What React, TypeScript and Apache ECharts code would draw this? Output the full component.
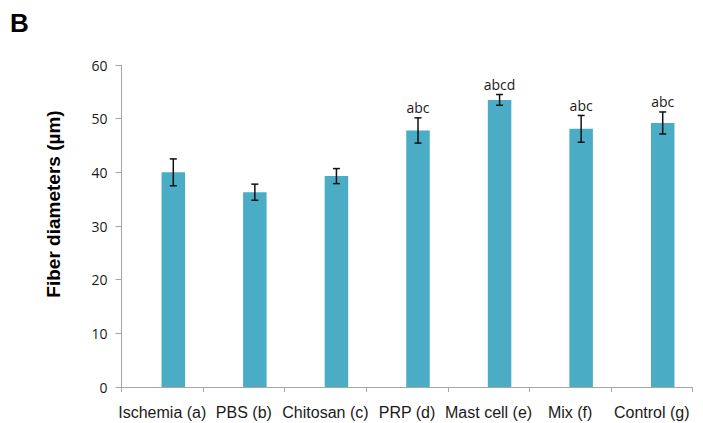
import React, { useEffect, useRef } from "react";
import * as echarts from "echarts";

const categories = ["Ischemia (a)", "PBS (b)", "Chitosan (c)", "PRP (d)", "Mast cell (e)", "Mix (f)", "Control (g)"];
const means = [40.0, 36.3, 39.3, 47.8, 53.5, 48.1, 49.2];
const errors = [2.5, 1.5, 1.4, 2.35, 1.0, 2.5, 2.05];
const sigLabels = ["", "", "", "abc", "abcd", "abc", "abc"];
const yTicks = { min: 0, max: 60, interval: 10 };

const BAR_W = 23.5;
const BAR_GAP_PX = -1.5;
const OFFSET = (BAR_W + BAR_GAP_PX) / 2;

export default function App() {
  const ref = useRef<HTMLDivElement>(null);
  useEffect(() => {
    if (!ref.current) return;
    const chart = echarts.init(ref.current, null, { renderer: "svg" });
    const errData = means.map((m, i) => [i, m, errors[i], sigLabels[i]]);
    chart.setOption({
      animation: false,
      backgroundColor: "#ffffff",
      grid: { left: 121.5, right: 10.5, top: 65, bottom: 36, containLabel: false },
      graphic: [
        {
          type: "text",
          left: 10,
          top: 10,
          style: { text: "B", font: "bold 26px 'Liberation Sans', Arial, sans-serif", fill: "#000" },
        },
        {
          type: "text",
          x: 53,
          y: 204,
          rotation: Math.PI / 2,
          style: {
            text: "Fiber diameters (µm)",
            font: "bold 19px 'Liberation Sans', Arial, sans-serif",
            fill: "#000",
            align: "center",
            verticalAlign: "middle",
          },
        },
      ],
      xAxis: {
        type: "category",
        data: categories,
        axisLine: { lineStyle: { color: "#a6a6a6", width: 1 } },
        axisTick: { show: true, alignWithLabel: false, length: 5, lineStyle: { color: "#a6a6a6" } },
        axisLabel: {
          color: "#1a1a1a",
          fontFamily: "'Liberation Sans', Arial, sans-serif",
          fontSize: 16,
          margin: 17,
          interval: 0,
        },
      },
      yAxis: {
        type: "value",
        min: yTicks.min,
        max: yTicks.max,
        interval: yTicks.interval,
        splitLine: { show: false },
        axisLine: { show: true, lineStyle: { color: "#a6a6a6", width: 1 } },
        axisTick: { show: true, length: 6, lineStyle: { color: "#a6a6a6" } },
        axisLabel: {
          color: "#1a1a1a",
          fontFamily: "'Open Sans', 'Noto Sans', sans-serif",
          fontSize: 14,
          margin: 14,
        },
      },
      series: [
        {
          type: "bar",
          name: "spacer",
          data: categories.map(() => null),
          barWidth: BAR_W,
          barGap: ((BAR_GAP_PX / BAR_W) * 100).toFixed(1) + "%",
          itemStyle: { color: "transparent" },
          silent: true,
        },
        {
          type: "bar",
          name: "Fiber diameter",
          data: means,
          barWidth: BAR_W,
          itemStyle: { color: "#4bacc6" },
        },
        {
          type: "custom",
          name: "error",
          data: errData,
          z: 10,
          renderItem: (params: any, api: any) => {
            const idx = api.value(0);
            const m = api.value(1);
            const e = api.value(2);
            const lab = sigLabels[idx];
            const top = api.coord([idx, m + e]);
            const bot = api.coord([idx, m - e]);
            const x = top[0] + OFFSET;
            const cap = 3.5;
            const style = { stroke: "#111", lineWidth: 1.5 };
            const children: any[] = [
              { type: "line", shape: { x1: x, y1: top[1], x2: x, y2: bot[1] }, style },
              { type: "line", shape: { x1: x - cap, y1: top[1], x2: x + cap, y2: top[1] }, style },
              { type: "line", shape: { x1: x - cap, y1: bot[1], x2: x + cap, y2: bot[1] }, style },
            ];
            if (lab) {
              children.push({
                type: "text",
                x: x,
                y: top[1] - 3,
                style: {
                  text: lab,
                  font: "14px 'Open Sans', 'Noto Sans', sans-serif",
                  fill: "#1a1a1a",
                  align: "center",
                  verticalAlign: "bottom",
                },
              });
            }
            return { type: "group", children };
          },
        },
      ],
    });
    return () => chart.dispose();
  }, []);
  return <div ref={ref} style={{ position: "fixed", left: 0, top: 0, width: 703, height: 423 }} />;
}
